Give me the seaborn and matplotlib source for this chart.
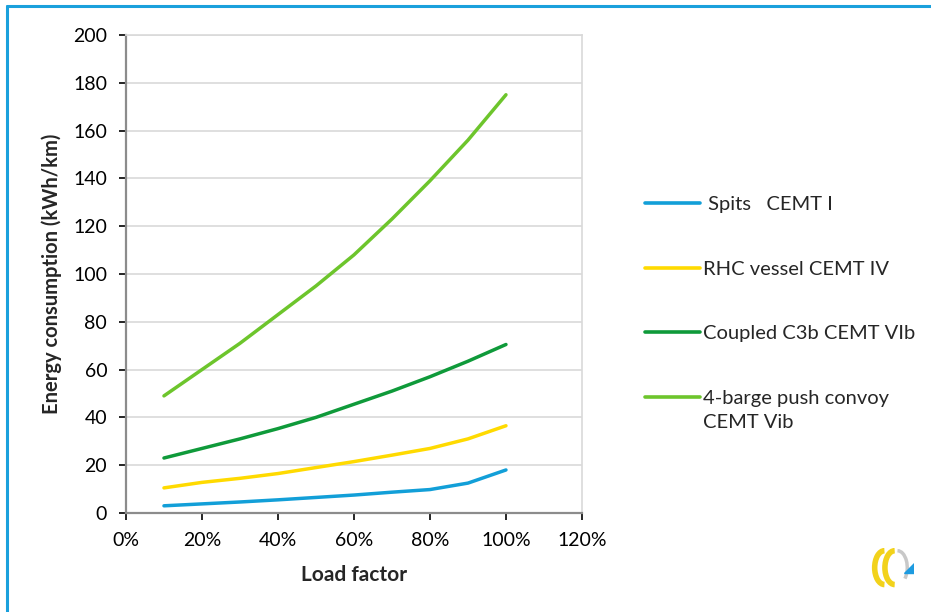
import matplotlib
matplotlib.use("Agg")
import matplotlib.pyplot as plt
from matplotlib.lines import Line2D
from matplotlib.patches import Arc, Polygon
from matplotlib.ticker import FuncFormatter
import seaborn as sns
import pandas as pd

# Energy consumption per vessel type at each load factor (kWh/km)
load_factor = [0.1, 0.2, 0.3, 0.4, 0.5, 0.6, 0.7, 0.8, 0.9, 1.0]
spits = [3.0, 3.8, 4.6, 5.5, 6.5, 7.5, 8.7, 9.8, 12.5, 18.0]
rhc_vessel = [10.5, 12.8, 14.5, 16.5, 19.0, 21.5, 24.2, 27.0, 31.0, 36.5]
coupled_c3b = [23.0, 27.0, 31.0, 35.3, 40.0, 45.5, 51.0, 57.0, 63.5, 70.5]
push_convoy = [49.0, 60.0, 71.0, 83.0, 95.0, 108.0, 123.0, 139.0, 156.0, 175.0]

series_names = [" Spits   CEMT I", "RHC vessel CEMT IV",
                "Coupled C3b CEMT VIb", "4-barge push convoy"]
series_values = [spits, rhc_vessel, coupled_c3b, push_convoy]
colors = ["#129FD8", "#FFDA00", "#0F9A3A", "#6DC52C"]

y_ticks = [0, 20, 40, 60, 80, 100, 120, 140, 160, 180, 200]
x_ticks = [0, 0.2, 0.4, 0.6, 0.8, 1.0, 1.2]

df = pd.DataFrame(
    [(x, v, name) for name, vals in zip(series_names, series_values)
     for x, v in zip(load_factor, vals)],
    columns=["load", "energy", "vessel"],
)

sns.set_style("white")
plt.rcParams["font.family"] = ["Lato", "DejaVu Sans"]

fig = plt.figure(figsize=(9.31, 6.12), dpi=100)
ax = fig.add_axes([0.1353, 0.1618, 0.4898, 0.781])

sns.lineplot(data=df, x="load", y="energy", hue="vessel",
             palette=dict(zip(series_names, colors)), linewidth=2.5,
             legend=False, ax=ax, solid_capstyle="round")

ax.set_xlim(0, 1.2)
ax.set_ylim(0, 200)
ax.set_xticks(x_ticks)
ax.set_yticks(y_ticks)
ax.xaxis.set_major_formatter(FuncFormatter(lambda v, p: f"{v*100:.0f}%"))
ax.tick_params(axis="both", labelsize=14, colors="#000000", length=5,
               width=1.2, direction="out", bottom=True, left=True, pad=8.5)
for t in ax.get_xticklines() + ax.get_yticklines():
    t.set_color("#8C8C8C")

ax.yaxis.grid(True, color="#D9D9D9", linewidth=1.2)
ax.set_axisbelow(True)
for side in ["left", "bottom"]:
    ax.spines[side].set_color("#8C8C8C")
    ax.spines[side].set_linewidth(1.6)
for side in ["top", "right"]:
    ax.spines[side].set_color("#D9D9D9")
    ax.spines[side].set_linewidth(1.2)

ax.set_xlabel("Load factor", fontsize=15, fontweight="bold", labelpad=12)
ax.set_ylabel("Energy consumption (kWh/km)", fontsize=14.5,
              fontweight="bold", labelpad=8)

# Legend to the right of the plot area
handles = [Line2D([], [], color=c, linewidth=2.6) for c in colors]
leg = ax.legend(handles, series_names, loc="upper left",
                bbox_to_anchor=(0.6928, 0.680), bbox_transform=fig.transFigure,
                frameon=False, fontsize=14.5, handlelength=2.75,
                handletextpad=0.15, labelspacing=2.36, borderpad=0,
                borderaxespad=0)
fig.text(0.7551, 0.309, "CEMT Vib", fontsize=14.5, va="center", ha="left")

# Blue frame around the figure
fig.add_artist(Line2D([0.008, 0.008], [0.0, 0.991], color="#1AA0DC",
                      linewidth=2.2, transform=fig.transFigure))
fig.add_artist(Line2D([0.008, 1.0], [0.991, 0.991], color="#1AA0DC",
                      linewidth=2.2, transform=fig.transFigure))

# Small logo in the lower right corner
logo = fig.add_axes([0.932, 0.04, 0.05, 0.065])
logo.set_xlim(0, 10)
logo.set_ylim(0, 10)
logo.axis("off")
logo.add_patch(Arc((3.6, 5), 4.2, 8.5, theta1=90, theta2=270,
                   color="#F2D21B", linewidth=4))
logo.add_patch(Arc((5.8, 5), 4.2, 8.5, theta1=90, theta2=270,
                   color="#F2D21B", linewidth=4))
logo.add_patch(Arc((6.4, 5), 4.2, 8.5, theta1=-60, theta2=90,
                   color="#C8C8C8", linewidth=2.5))
logo.add_patch(Polygon([[7.8, 3.6], [10, 3.6], [10, 6.2]],
                       closed=True, color="#1E9BE0"))

fig.savefig("out.png", dpi=100)
